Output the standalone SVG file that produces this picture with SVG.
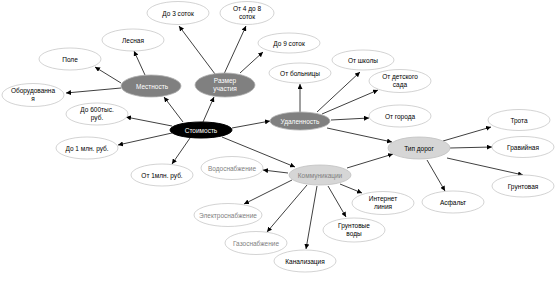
<svg xmlns="http://www.w3.org/2000/svg" width="557" height="281" viewBox="0 0 557 281">
<style>
text{font-family:"Liberation Sans",Arial,sans-serif;font-size:6.5px;text-anchor:middle;fill:#000}
.w ellipse{fill:#fff;stroke:#c8c8c8;stroke-width:0.8}
.d ellipse{fill:#808080;stroke:#b0b0b0;stroke-width:0.8}
.d text{fill:#fff}
.l ellipse{fill:#d6d6d6;stroke:#c0c0c0;stroke-width:0.8}
.g text,.l text{fill:#808080}
.k ellipse{fill:#000;stroke:#000}
.k text{fill:#fff}
#edges line{stroke:#000;stroke-width:0.75;marker-end:url(#a)}
</style>
<defs>
<marker id="a" markerUnits="userSpaceOnUse" markerWidth="6" markerHeight="5" refX="5" refY="2.5" orient="auto">
<path d="M0,0 L5,2.5 L0,5 Z" fill="#000"/>
</marker>
</defs>
<rect width="557" height="281" fill="#fff"/>
<g id="edges">
<line x1="183" y1="122" x2="164" y2="97"/>
<line x1="203" y1="122" x2="214" y2="97"/>
<line x1="232" y1="128" x2="270" y2="121"/>
<line x1="222" y1="137" x2="295" y2="167"/>
<line x1="172" y1="126" x2="126" y2="117"/>
<line x1="172" y1="133" x2="118" y2="145"/>
<line x1="190" y1="138" x2="172" y2="164"/>
<line x1="145" y1="75" x2="134" y2="51"/>
<line x1="121" y1="83" x2="95" y2="67"/>
<line x1="121" y1="88" x2="66" y2="93"/>
<line x1="215" y1="74" x2="179" y2="26"/>
<line x1="224" y1="74" x2="246" y2="26"/>
<line x1="240" y1="73" x2="263" y2="52"/>
<line x1="300" y1="112" x2="300" y2="84"/>
<line x1="317" y1="112" x2="360" y2="72"/>
<line x1="322" y1="114" x2="378" y2="90"/>
<line x1="331" y1="120" x2="369" y2="118"/>
<line x1="327" y1="128" x2="392" y2="142"/>
<line x1="347" y1="168" x2="393" y2="154"/>
<line x1="443" y1="141" x2="491" y2="127"/>
<line x1="450" y1="148" x2="492" y2="147"/>
<line x1="447" y1="158" x2="523" y2="175"/>
<line x1="427" y1="160" x2="445" y2="191"/>
<line x1="288" y1="173" x2="263" y2="170"/>
<line x1="292" y1="180" x2="244" y2="204"/>
<line x1="307" y1="185" x2="267" y2="232"/>
<line x1="317" y1="186" x2="306" y2="249"/>
<line x1="328" y1="186" x2="346" y2="217"/>
<line x1="340" y1="184" x2="362" y2="193"/>
</g>
<g id="n-stoimost" class="k"><ellipse cx="201" cy="130" rx="31" ry="8"/><text x="201" y="132.5">Стоимость</text></g>
<g id="n-mestnost" class="d"><ellipse cx="151" cy="86" rx="30" ry="11"/><text x="152" y="88.5">Местность</text></g>
<g id="n-razmer" class="d"><ellipse cx="225" cy="85" rx="30" ry="12"/><text x="225" y="82.5">Размер</text><text x="225" y="91">участия</text></g>
<g id="n-udalennost" class="d"><ellipse cx="300" cy="121" rx="30" ry="9"/><text x="300" y="123.5">Удаленность</text></g>
<g id="n-tipdorog" class="l"><ellipse cx="419" cy="148" rx="31" ry="11"/><text x="419" y="150.5" style="fill:#000">Тип дорог</text></g>
<g id="n-kommunikacii" class="l"><ellipse cx="320" cy="175" rx="31" ry="10"/><text x="320" y="177.5">Коммуникации</text></g>
<g id="n-do3" class="w"><ellipse cx="178" cy="13" rx="31" ry="11.5"/><text x="178" y="15.5">До 3 соток</text></g>
<g id="n-ot4do8" class="w"><ellipse cx="247" cy="13" rx="27" ry="11.5"/><text x="247" y="10.5">От 4 до 8</text><text x="247" y="19">соток</text></g>
<g id="n-do9" class="w"><ellipse cx="289" cy="43" rx="31" ry="10"/><text x="289" y="45.5">До 9 соток</text></g>
<g id="n-lesnaya" class="w"><ellipse cx="133" cy="40" rx="31" ry="11"/><text x="133" y="42.5">Лесная</text></g>
<g id="n-pole" class="w"><ellipse cx="70" cy="59" rx="31" ry="11"/><text x="70" y="61.5">Поле</text></g>
<g id="n-oborud" class="w"><ellipse cx="33" cy="95" rx="31" ry="11.5"/><text x="33" y="92.5">Оборудованна</text><text x="33" y="101">я</text></g>
<g id="n-do600" class="w"><ellipse cx="97" cy="114" rx="31" ry="11"/><text x="97" y="111.5">До 600тыс.</text><text x="97" y="120">руб.</text></g>
<g id="n-do1mln" class="w"><ellipse cx="87" cy="148" rx="31" ry="11"/><text x="87" y="150.5">До 1 млн. руб.</text></g>
<g id="n-ot1mln" class="w"><ellipse cx="162" cy="175" rx="31" ry="11"/><text x="162" y="177.5">От 1млн. руб.</text></g>
<g id="n-bolnicy" class="w"><ellipse cx="300" cy="73" rx="31" ry="10"/><text x="300" y="75.5">От больницы</text></g>
<g id="n-shkoly" class="w"><ellipse cx="363" cy="60" rx="31" ry="10"/><text x="363" y="62.5">От школы</text></g>
<g id="n-sad" class="w"><ellipse cx="400" cy="81" rx="31" ry="11.5"/><text x="400" y="78.5">От детского</text><text x="400" y="87">сада</text></g>
<g id="n-goroda" class="w"><ellipse cx="400" cy="116" rx="31" ry="11"/><text x="400" y="118.5">От города</text></g>
<g id="n-trota" class="w"><ellipse cx="519" cy="120" rx="31" ry="10.5"/><text x="519" y="122.5">Трота</text></g>
<g id="n-graviy" class="w"><ellipse cx="523" cy="147" rx="31" ry="10.5"/><text x="523" y="149.5">Гравийная</text></g>
<g id="n-grunt" class="w"><ellipse cx="523" cy="186" rx="31" ry="11"/><text x="523" y="188.5">Грунтовая</text></g>
<g id="n-asfalt" class="w"><ellipse cx="453" cy="202" rx="31" ry="11"/><text x="453" y="204.5">Асфальт</text></g>
<g id="n-internet" class="w"><ellipse cx="383" cy="203" rx="31" ry="11.5"/><text x="383" y="200.5">Интернет</text><text x="383" y="209">линия</text></g>
<g id="n-vody" class="w"><ellipse cx="354" cy="230" rx="31" ry="12"/><text x="354" y="227.5">Грунтовые</text><text x="354" y="236">воды</text></g>
<g id="n-kanal" class="w"><ellipse cx="305" cy="261" rx="31" ry="11"/><text x="305" y="263.5">Канализация</text></g>
<g id="n-gaz" class="w g"><ellipse cx="256" cy="243" rx="31" ry="11.5"/><text x="256" y="245.5">Газоснабжение</text></g>
<g id="n-elektro" class="w g"><ellipse cx="228" cy="215" rx="34" ry="11.5"/><text x="228" y="217.5">Электроснабжение</text></g>
<g id="n-vodo" class="w g"><ellipse cx="232" cy="168" rx="31" ry="11.5"/><text x="232" y="170.5">Водоснабжение</text></g>
</svg>
